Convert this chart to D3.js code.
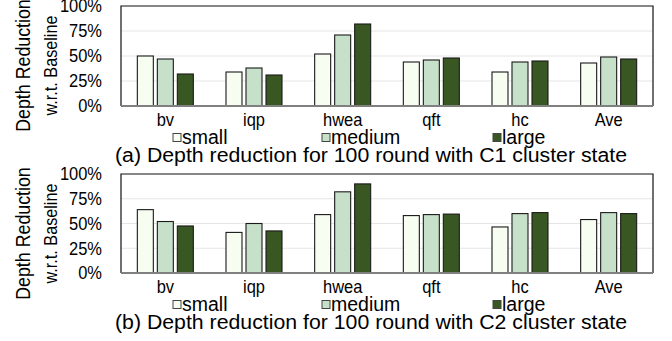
<!DOCTYPE html>
<html>
<head>
<meta charset="utf-8">
<script src="https://cdn.jsdelivr.net/npm/d3@7"></script>
<style>
  body { margin: 0; background: #fff; }
  text { font-family: "Liberation Sans", Arial, sans-serif; fill: #000; }
</style>
</head>
<body>
<script>
// data
const categories = ["bv", "iqp", "hwea", "qft", "hc", "Ave"];
const seriesNames = ["small", "medium", "large"];
const c1Small  = [0.50, 0.34, 0.52, 0.44, 0.34, 0.43];
const c1Medium = [0.47, 0.38, 0.71, 0.46, 0.44, 0.49];
const c1Large  = [0.32, 0.31, 0.82, 0.48, 0.45, 0.47];
const c2Small  = [0.64, 0.41, 0.59, 0.58, 0.465, 0.54];
const c2Medium = [0.52, 0.50, 0.82, 0.59, 0.60, 0.61];
const c2Large  = [0.475, 0.425, 0.90, 0.595, 0.61, 0.60];
const yTicks = [0, 0.25, 0.5, 0.75, 1];
const tickLabels = ["0%", "25%", "50%", "75%", "100%"];
const captions = [
  "(a) Depth reduction for 100 round with C1 cluster state",
  "(b) Depth reduction for 100 round with C2 cluster state"
];

const colors = { small: "#f7fdf0", medium: "#c7e0c9", large: "#385723" };
const width = 672, height = 341;
const plotLeft = 121, plotRight = 653;

const svg = d3.select("body").append("svg")
  .attr("width", width)
  .attr("height", height);

// text with a narrow look (horizontal squeeze)
function addText(g, x, y, str, size, anchor, rot, sx) {
  return g.append("text")
    .attr("transform", `translate(${x},${y})` + (rot ? ` rotate(${rot})` : "") + ` scale(${sx || 0.89},1)`)
    .attr("font-size", size)
    .attr("text-anchor", anchor)
    .text(str);
}

function drawPanel(top, bottom, small, medium, large, caption) {
  const g = svg.append("g");
  const rows = categories.map((c, i) => ({ cat: c, small: small[i], medium: medium[i], large: large[i] }));

  const x = d3.scaleBand().domain(categories).range([plotLeft, plotRight]);
  const xSub = d3.scaleBand().domain(seriesNames).range([-28, 28]).paddingInner(0.2);
  const y = d3.scaleLinear().domain([0, 1]).range([bottom, top]);

  // grid
  g.selectAll(".grid").data(yTicks.slice(1, 4)).enter().append("line")
    .attr("x1", plotLeft).attr("x2", plotRight)
    .attr("y1", d => y(d)).attr("y2", d => y(d))
    .attr("stroke", "#e6e6e6").attr("stroke-width", 1);

  // frame
  g.append("path")
    .attr("d", `M${plotLeft},${bottom}V${top}H${plotRight}V${bottom}`)
    .attr("fill", "none").attr("stroke", "#111").attr("stroke-width", 1.2);

  // bars
  const grp = g.selectAll(".grp").data(rows).enter().append("g")
    .attr("transform", d => `translate(${x(d.cat) + x.bandwidth() / 2},0)`);
  grp.selectAll("rect").data(d => seriesNames.map(s => ({ s, v: d[s] }))).enter().append("rect")
    .attr("x", d => xSub(d.s))
    .attr("width", xSub.bandwidth())
    .attr("y", d => y(d.v))
    .attr("height", d => bottom - y(d.v))
    .attr("fill", d => colors[d.s])
    .attr("stroke", "#1a1a1a").attr("stroke-width", 1.1);

  // x axis line
  g.append("line")
    .attr("x1", plotLeft).attr("x2", plotRight)
    .attr("y1", bottom).attr("y2", bottom)
    .attr("stroke", "#808080").attr("stroke-width", 2);

  // y tick labels
  yTicks.forEach((t, i) => {
    addText(g, 102, y(t), tickLabels[i], 18.5, "end").attr("dy", "0.35em");
  });

  // x labels
  categories.forEach(c => {
    addText(g, x(c) + x.bandwidth() / 2, bottom + 19.5, c, 18.5, "middle");
  });

  // y title
  const mid = top + 59.5;
  addText(g, 29.5, mid, "Depth Reduction", 20, "middle", -90);
  addText(g, 57, mid, "w.r.t. Baseline", 18, "middle", -90, 0.9);

  // legend
  const legX = [173, 322, 493];
  seriesNames.forEach((s, i) => {
    g.append("rect")
      .attr("x", legX[i]).attr("y", bottom + 27.5)
      .attr("width", 8).attr("height", 8)
      .attr("fill", colors[s]).attr("stroke", "#444").attr("stroke-width", 1);
    addText(g, legX[i] + 9, bottom + 37.5, s, 19.5, "start", 0, 1);
  });

  // caption
  g.append("text")
    .attr("x", 115).attr("y", bottom + 56)
    .attr("font-size", 20)
    .attr("textLength", 512)
    .attr("lengthAdjust", "spacingAndGlyphs")
    .text(caption);
}

drawPanel(6, 106, c1Small, c1Medium, c1Large, captions[0]);
drawPanel(174, 273, c2Small, c2Medium, c2Large, captions[1]);
</script>
</body>
</html>
